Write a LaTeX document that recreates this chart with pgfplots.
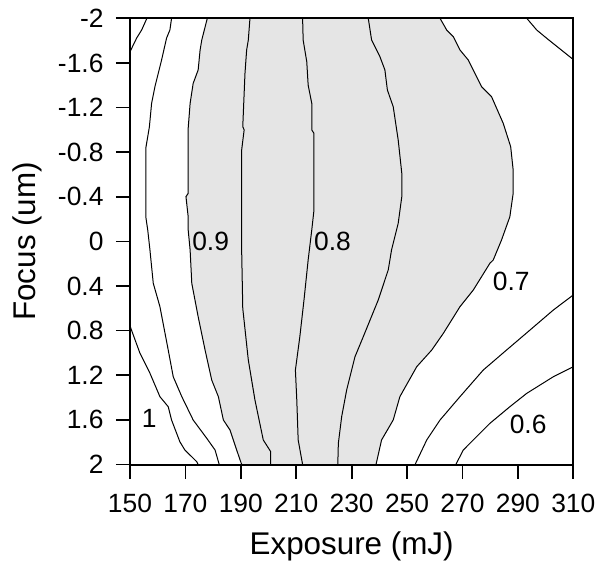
\documentclass[border=0pt]{standalone}
\usepackage{fontspec}
\setmainfont{Liberation Sans}
\usepackage{pgfplots}
\pgfplotsset{compat=1.18}
\definecolor{shade}{RGB}{229,229,229}
\tikzset{clab/.style={font=\fontsize{26.5}{26.5}\selectfont}}
\begin{document}
\begin{tikzpicture}
\useasboundingbox (-130bp,-102.5bp) rectangle (467bp,464.5bp);
\begin{axis}[
  at={(0,0)}, anchor=south west,
  scale only axis, width=443.3bp, height=446.2bp,
  xmin=150, xmax=310, ymin=-2, ymax=2, y dir=reverse,
  axis on top,
  xtick={150,170,190,210,230,250,270,290,310},
  xticklabels={150,170,190,210,230,250,270,290,310},
  ytick={-2,-1.6,-1.2,-0.8,-0.4,0,0.4,0.8,1.2,1.6,2},
  yticklabels={-2,-1.6,-1.2,-0.8,-0.4,0,0.4,0.8,1.2,1.6,2},
  tick pos=left, tick align=outside, major tick length=14bp,
  tick style={black, line width=1.7bp},
  axis line style={line width=2bp},
  tick label style={font=\fontsize{26.5}{26.5}\selectfont},
  xticklabel style={yshift=-12bp},
  yticklabel style={xshift=-9bp},
  label style={font=\fontsize{31.5}{31.5}\selectfont},
  xlabel={Exposure (mJ)}, ylabel={Focus (um)},
  xlabel style={at={(axis description cs:0.5,-0.2028)}, anchor=base},
  ylabel style={at={(axis description cs:-0.2143,0.5)}, anchor=base},
  contour/.style={black, line width=1bp, mark=none},
]
% shaded band between the 0.9 and 0.7 contours
\addplot[fill=shade, draw=none] coordinates {
(177.9,-2) (175.9,-1.805) (175.3,-1.716) (174.6,-1.537) (172.8,-1.417) (171.7,-1.238) (171.0,-1.014) (171.0,-0.431) (170.2,-0.401) (171.0,-0.221) (171.0,-0.102) (171.7,0.077) (172.3,0.376) (174.6,0.675) (177.1,0.974) (179.5,1.243) (181.9,1.392) (183.7,1.601) (186.1,1.691) (188.5,1.870) (190.3,2)
(238.8,2) (240.8,1.780) (245.0,1.601) (247.4,1.392) (253.5,1.123) (258.9,0.974) (263.1,0.824) (269.1,0.585) (273.9,0.436) (279.9,0.196) (281.1,0.167) (284.1,-0.013) (287.1,-0.221) (288.3,-0.431) (288.3,-0.640) (287.4,-0.849) (284.7,-1.059) (280.5,-1.297) (276.9,-1.387) (272.1,-1.626) (269.1,-1.716) (266.7,-1.835) (264.3,-1.895) (261.9,-2)
} -- cycle;
% 1.0 (top-left corner)
\addplot[contour] coordinates {(156.1,-2) (154.2,-1.895) (152.4,-1.823) (150,-1.70)};
% 1.0 (bottom-left corner)
\addplot[contour] coordinates {(150,0.758) (153.6,1.003) (157.2,1.182) (160.8,1.392) (163.8,1.482) (165.0,1.601) (168.0,1.796) (169.8,1.870) (174.1,1.975) (174.6,2)};
% 0.95
\addplot[contour] coordinates {(165.0,-2) (164.4,-1.895) (163.2,-1.823) (161.4,-1.626) (159.0,-1.387) (157.8,-1.238) (157.0,-1.028) (155.7,-0.835) (155.7,-0.221) (156.4,-0.102) (157.2,0.077) (158.4,0.376) (160.8,0.585) (163.8,0.974) (165.6,1.213) (168.7,1.392) (172.8,1.601) (177.7,1.765) (180.7,1.870) (182.2,2)};
% 0.9
\addplot[contour] coordinates {(177.9,-2) (175.9,-1.805) (175.3,-1.716) (174.6,-1.537) (172.8,-1.417) (171.7,-1.238) (171.0,-1.014) (171.0,-0.431) (170.2,-0.401) (171.0,-0.221) (171.0,-0.102) (171.7,0.077) (172.3,0.376) (174.6,0.675) (177.1,0.974) (179.5,1.243) (181.9,1.392) (183.7,1.601) (186.1,1.691) (188.5,1.870) (190.3,2)};
% 0.85
\addplot[contour] coordinates {(193.3,-2) (192.7,-1.805) (192.1,-1.716) (191.5,-1.507) (190.7,-1.028) (191.2,-1.0) (190.3,-0.819) (190.3,-0.102) (190.3,0.077) (190.7,0.600) (192.7,1.063) (195.1,1.422) (198.1,1.780) (200.8,1.885) (200.8,2)};
% 0.8
\addplot[contour] coordinates {(212.3,-2) (212.5,-1.805) (213.8,-1.611) (214.3,-1.402) (215.6,-1.238) (215.6,-0.999) (216.4,-0.969) (216.4,-0.281) (215.6,-0.102) (214.3,0.167) (212.8,0.525) (211.3,0.854) (209.7,1.153) (210.2,1.422) (210.7,1.780) (212.3,2)};
% 0.75
\addplot[contour] coordinates {(236.0,-2) (237.2,-1.805) (240.2,-1.656) (242.0,-1.537) (242.9,-1.357) (245.0,-1.208) (246.8,-0.909) (248.1,-0.610) (248.1,-0.401) (246.8,-0.162) (244.4,0.077) (243.2,0.256) (239.6,0.525) (234.2,0.854) (231.2,1.034) (228.2,1.332) (226.4,1.571) (225.2,1.810) (225.0,2)};
% 0.7
\addplot[contour] coordinates {(261.9,-2) (264.3,-1.895) (266.7,-1.835) (269.1,-1.716) (272.1,-1.626) (276.9,-1.387) (280.5,-1.297) (284.7,-1.059) (287.4,-0.849) (288.3,-0.640) (288.3,-0.431) (287.1,-0.221) (284.1,-0.013) (281.1,0.167) (279.9,0.196) (273.9,0.436) (269.1,0.585) (263.1,0.824) (258.9,0.974) (253.5,1.123) (247.4,1.392) (245.0,1.601) (240.8,1.780) (238.8,2)};
% 0.65 (top-right corner)
\addplot[contour] coordinates {(293.2,-2) (296.8,-1.895) (300.4,-1.821) (310,-1.63)};
% 0.65
\addplot[contour] coordinates {(252.9,2) (257.1,1.780) (261.9,1.601) (269.1,1.392) (277.5,1.153) (285.9,0.974) (294.4,0.794) (302.8,0.615) (310,0.480)};
% 0.6
\addplot[contour] coordinates {(267.6,2) (270.3,1.870) (273.9,1.780) (279.9,1.631) (287.1,1.482) (293.2,1.362) (302.8,1.213) (310,1.123)};
% contour labels
\node[clab] at (axis cs:156.9,1.589) {1};
\node[clab] at (axis cs:179.1,0) {0.9};
\node[clab] at (axis cs:223.1,0) {0.8};
\node[clab] at (axis cs:287.6,0.357) {0.7};
\node[clab] at (axis cs:293.7,1.639) {0.6};
\end{axis}
\end{tikzpicture}
\end{document}
